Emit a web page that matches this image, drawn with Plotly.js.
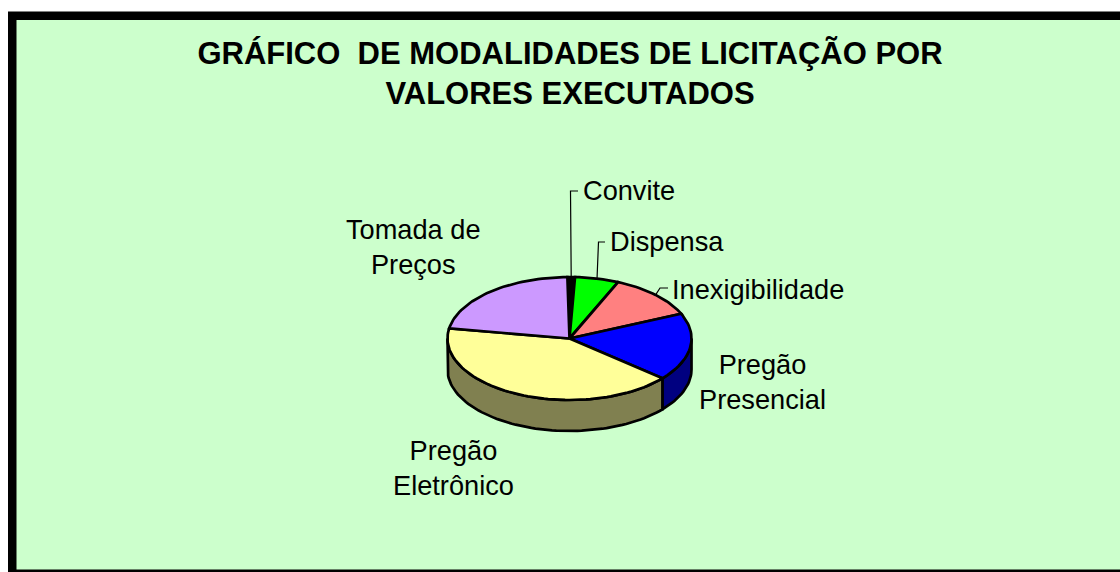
<!DOCTYPE html>
<html>
<head>
<meta charset="utf-8">
<script src="https://cdn.plot.ly/plotly-3.0.1.min.js"></script>
<style>html,body{margin:0;padding:0;background:#fff}#chart{width:1120px;height:572px}</style>
</head>
<body>
<div id="chart"></div>
<script>
// Data (percent of executed value)
var categories = ['Convite', 'Dispensa', 'Inexigibilidade', 'Pregão Presencial', 'Pregão Eletrônico', 'Tomada de Preços'];
var values = [1.0, 5.8, 11.9, 17.8, 41.4, 22.1];
var topColors = ['#000000', '#00FF00', '#FF8080', '#0000FF', '#FFFF99', '#CC99FF'];
var wallColors = ['#000000', '#008000', '#804040', '#000080', '#808050', '#665080'];
var labelTexts = ['Convite', 'Dispensa', 'Inexigibilidade', 'Pregão<br>Presencial', 'Pregão<br>Eletrônico', 'Tomada de<br>Preços'];
var titleText = 'GRÁFICO \u00A0DE MODALIDADES DE LICITAÇÃO POR<br>VALORES EXECUTADOS';

// Pie projection
var cx = 569.5, cy = 338.5, rx = 122, ry = 61.5, depth = 31, startDeg = -1;
var FONT = 'Liberation Sans, Arial, sans-serif';
var total = values.reduce(function (a, b) { return a + b; }, 0);

function pt(deg, dy) {
  var r = deg * Math.PI / 180;
  return [cx + rx * Math.sin(r), cy - ry * Math.cos(r) + (dy || 0)];
}
function arc(a, b, dy) {
  var out = [], n = Math.max(2, Math.ceil(Math.abs(b - a) / 2));
  for (var i = 0; i <= n; i++) out.push(pt(a + (b - a) * i / n, dy));
  return out;
}
function poly(points, fill, name) {
  return {
    type: 'scatter', mode: 'lines', name: name,
    x: points.map(function (p) { return p[0]; }),
    y: points.map(function (p) { return p[1]; }),
    fill: 'toself', fillcolor: fill,
    line: { color: '#000000', width: 2.7 },
    hoverinfo: 'name', showlegend: false
  };
}

var walls = [], tops = [], bounds = [], a = startDeg;
values.forEach(function (v, i) {
  var b = a + v / total * 360;
  bounds.push([a, b]);
  // Side wall: only the part of the rim on the front half (90..270 deg)
  var lo = Math.max(a, 90), hi = Math.min(b, 270);
  if (hi > lo) {
    walls.push(poly(arc(lo, hi, 0).concat(arc(hi, lo, depth)).concat([pt(lo, 0)]), wallColors[i], categories[i]));
  }
  tops.push(poly([[cx, cy]].concat(arc(a, b, 0)).concat([[cx, cy]]), topColors[i], categories[i]));
  a = b;
});

// Leader lines start at the middle of their slice's rim
function leader(i, bendX, bendY, endX) {
  var m = pt((bounds[i][0] + bounds[i][1]) / 2, 0);
  return {
    type: 'scatter', mode: 'lines', x: [m[0], bendX, endX], y: [m[1], bendY, bendY],
    line: { color: '#000000', width: 1.2 }, hoverinfo: 'skip', showlegend: false
  };
}
var leaders = [leader(0, 570.5, 191, 578), leader(1, 598.5, 242, 605), leader(2, 660, 288, 668)];

var labelPos = [
  { x: 628.5, y: 190 }, { x: 666.5, y: 241 }, { x: 757.5, y: 289 },
  { x: 762, y: 382 }, { x: 453, y: 467.5 }, { x: 413, y: 247 }
];
var annotations = labelTexts.map(function (t, i) {
  return {
    xref: 'x', yref: 'y', x: labelPos[i].x, y: labelPos[i].y, text: t, showarrow: false,
    xanchor: 'center', yanchor: 'middle', align: 'center',
    font: { family: FONT, size: 27.2, color: '#000000' }
  };
});

var layout = {
  width: 1120, height: 572,
  margin: { l: 0, r: 0, t: 0, b: 0, pad: 0 },
  paper_bgcolor: '#FFFFFF', plot_bgcolor: 'rgba(0,0,0,0)',
  showlegend: false,
  hovermode: 'closest',
  title: {
    text: titleText, x: 570 / 1120, xanchor: 'center', xref: 'paper',
    y: 1 - 64 / 572, yanchor: 'middle', yref: 'container',
    font: { family: FONT, size: 31, color: '#000000', weight: 700 }
  },
  xaxis: { range: [0, 1120], visible: false, fixedrange: true },
  yaxis: { range: [572, 0], visible: false, fixedrange: true },
  shapes: [
    { type: 'rect', layer: 'below', xref: 'x', yref: 'y', x0: 8, y0: 11.5, x1: 1130, y1: 580, fillcolor: '#000000', line: { width: 0 } },
    { type: 'rect', layer: 'below', xref: 'x', yref: 'y', x0: 16.5, y0: 20, x1: 1130, y1: 569.5, fillcolor: '#CCFFCC', line: { width: 0 } }
  ],
  annotations: annotations
};

Plotly.newPlot('chart', leaders.concat(walls).concat(tops), layout, { displayModeBar: false });
</script>
</body>
</html>
